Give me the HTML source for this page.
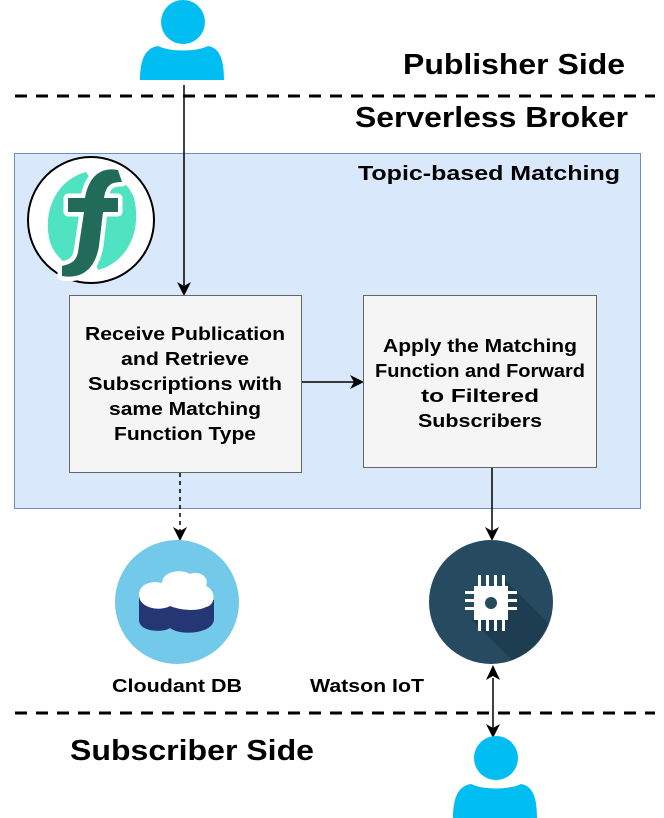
<!DOCTYPE html>
<html><head><style>html,body{margin:0;padding:0;background:#fff}svg{display:block}</style></head>
<body>
<svg width="664" height="818" viewBox="0 0 664 818" xmlns="http://www.w3.org/2000/svg" font-family="Liberation Sans, sans-serif" font-weight="bold">
<defs>
<marker id="ah" markerWidth="14" markerHeight="14" refX="12" refY="7" orient="auto" markerUnits="userSpaceOnUse">
<path d="M0,0 L14,7 L0,14 L4,7 Z" fill="#000"/></marker>
</defs>
<circle cx="183" cy="22" r="22" fill="#00BEF2"/>
<path d="M140,80 C140,60 145,48 158,46 C170,52 196,52 208,46 C220,48 224,60 224,80 Z" fill="#00BEF2"/>
<text x="403" y="74" font-size="29" textLength="222" lengthAdjust="spacingAndGlyphs">Publisher Side</text>
<line x1="15" y1="96" x2="655" y2="96" stroke="#000" stroke-width="3" stroke-dasharray="12,9"/>
<text x="355" y="127" font-size="29" textLength="273" lengthAdjust="spacingAndGlyphs">Serverless Broker</text>
<rect x="14.5" y="153.5" width="626" height="355" fill="#dae8fc" stroke="#6c8ebf"/>
<text x="358" y="180" font-size="20" textLength="262" lengthAdjust="spacingAndGlyphs">Topic-based Matching</text>
<circle cx="91" cy="220" r="63" fill="#fff" stroke="#000" stroke-width="2"/>
<path d="M86,172 C56,180 42,212 50,242 C56,260 72,268 80,268 L90,178 Z" fill="#4fe3c2"/>
<path d="M98,270 C128,262 142,230 134,198 C128,182 114,174 106,174 L96,262 Z" fill="#4fe3c2"/>
<path d="M118,170 C98,166 88,180 85,198 L68,198 L68,212 L84,212 L78,252 C76,262 70,264 62,266 L62,276 C86,280 96,264 99,246 L103,212 L118,212 L118,198 L104,198 C106,186 110,182 122,182 Z" fill="#fff" stroke="#fff" stroke-width="9" stroke-linejoin="round"/>
<path d="M118,170 C98,166 88,180 85,198 L68,198 L68,212 L84,212 L78,252 C76,262 70,264 62,266 L62,276 C86,280 96,264 99,246 L103,212 L118,212 L118,198 L104,198 C106,186 110,182 122,182 Z" fill="#226b5a"/>
<line x1="184" y1="85" x2="184" y2="294" stroke="#000" stroke-width="1.5" marker-end="url(#ah)"/>
<rect x="69.5" y="295.5" width="232" height="177" fill="#f5f5f5" stroke="#666"/>
<g font-size="18" text-anchor="middle" lengthAdjust="spacingAndGlyphs">
<text x="185" y="340" textLength="200" lengthAdjust="spacingAndGlyphs">Receive Publication</text>
<text x="185" y="365" textLength="128" lengthAdjust="spacingAndGlyphs">and Retrieve</text>
<text x="185" y="390" textLength="194" lengthAdjust="spacingAndGlyphs">Subscriptions with</text>
<text x="185" y="415" textLength="152" lengthAdjust="spacingAndGlyphs">same Matching</text>
<text x="185" y="440" textLength="142" lengthAdjust="spacingAndGlyphs">Function Type</text>
</g>
<line x1="302" y1="382" x2="362" y2="382" stroke="#000" stroke-width="1.5" marker-end="url(#ah)"/>
<rect x="363.5" y="295.5" width="233" height="172" fill="#f5f5f5" stroke="#666"/>
<g font-size="18" text-anchor="middle">
<text x="480" y="352" textLength="194" lengthAdjust="spacingAndGlyphs">Apply the Matching</text>
<text x="480" y="377" textLength="210" lengthAdjust="spacingAndGlyphs">Function and Forward</text>
<text x="480" y="402" textLength="118" lengthAdjust="spacingAndGlyphs">to Filtered</text>
<text x="480" y="427" textLength="124" lengthAdjust="spacingAndGlyphs">Subscribers</text>
</g>
<line x1="180" y1="473" x2="180" y2="539" stroke="#000" stroke-width="1.5" stroke-dasharray="4,4" marker-end="url(#ah)"/>
<line x1="492" y1="468" x2="492" y2="539" stroke="#000" stroke-width="1.5" marker-end="url(#ah)"/>
<circle cx="177" cy="602" r="62" fill="#73c9e9"/>
<path d="M139,595 L139,620 C139,632 163,633 170,628 C180,636 212,634 214,620 L214,600 Z" fill="#253675"/>
<path d="M139,595 C139,585 150,580 162,583 C162,572 180,568 190,574 C200,570 210,578 206,586 C216,590 216,605 206,607 C196,612 180,610 170,606 C160,612 139,608 139,595 Z" fill="#fff"/>
<circle cx="491" cy="602" r="62" fill="#264a60"/>
<path d="M505,580 L548,623 A62,62 0 0 1 512,660 L472,620 Z" fill="#1e3a4c" opacity="0.8"/>
<g fill="#fff">
<rect x="478" y="575" width="3" height="56"/><rect x="486" y="575" width="3" height="56"/><rect x="494" y="575" width="3" height="56"/><rect x="502" y="575" width="3" height="56"/>
<rect x="465" y="591" width="52" height="3"/><rect x="465" y="599" width="52" height="3"/><rect x="465" y="607" width="52" height="3"/>
<rect x="474" y="586" width="34" height="34"/>
</g>
<circle cx="491" cy="603" r="6" fill="#264a60"/>
<text x="177" y="692" font-size="18" text-anchor="middle" textLength="130" lengthAdjust="spacingAndGlyphs">Cloudant DB</text>
<text x="367" y="692" font-size="18" text-anchor="middle" textLength="114" lengthAdjust="spacingAndGlyphs">Watson IoT</text>
<line x1="493" y1="678" x2="493" y2="736" stroke="#000" stroke-width="1.5" marker-end="url(#ah)"/>
<path d="M493,665 L486,680 L493,676 L500,680 Z" fill="#000"/>
<line x1="15" y1="713" x2="655" y2="713" stroke="#000" stroke-width="3" stroke-dasharray="12,9"/>
<text x="70" y="760" font-size="29" textLength="244" lengthAdjust="spacingAndGlyphs">Subscriber Side</text>
<circle cx="496" cy="758" r="22" fill="#00BEF2"/>
<path d="M453,818 C453,798 458,786 471,784 C483,790 509,790 521,784 C533,786 537,798 537,818 Z" fill="#00BEF2"/>
</svg>
</body></html>
